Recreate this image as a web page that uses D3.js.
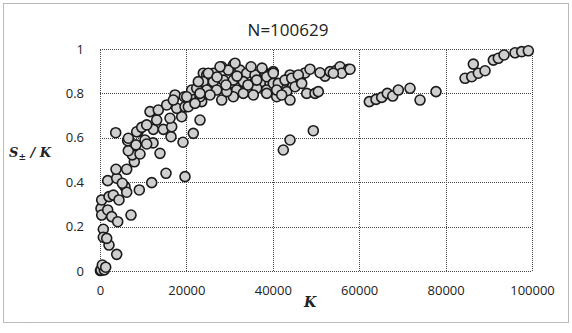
<!DOCTYPE html>
<html>
<head>
<meta charset="utf-8">
<script src="https://cdn.jsdelivr.net/npm/d3@7"></script>
<style>
  html, body { margin: 0; padding: 0; background: #fff; }
  svg { display: block; }
</style>
</head>
<body>
<div id="chart"></div>
<script>
// chart text
const chartTitle = "N=100629";
const xTicks = [0, 20000, 40000, 60000, 80000, 100000];
const yTicks = [0, 0.2, 0.4, 0.6, 0.8, 1];

// K values (x) and S/K values (y)
const kValues = [
  100, 232, 995, 532, 1320, 2084, 3866, 764, 764, 1551, 232, 394, 1783, 2709, 4098, 7177,
  394, 2084, 3079, 4399, 5788, 6181, 9098, 1783, 3866, 5162, 11969, 3704, 6181, 15279, 19678,
  7940, 7477, 9260, 13890, 6551, 6413, 8334, 10418, 12270, 10811, 3635, 8797, 16437, 19215, 6551,
  8496, 9654, 12339, 14654, 16599, 10811, 13126, 16205, 18914, 23150, 21599, 11575, 13496,
  15441, 17756, 19678, 20441, 17363, 19515, 21993, 23543, 21229, 23150, 23914, 20071, 16969,
  30859, 28173, 29701, 26229, 24700, 32410, 33961, 35883, 38198, 39749,
  23914, 26229, 28544, 30859, 33174, 35489, 37434, 39355,
  22386, 24700, 27016, 29331, 31646, 33961, 36276, 38591,
  23150, 25465, 28173, 30859, 33174, 21993,
  22756, 25071, 27780, 31253, 36276, 38591, 40119, 42433, 23150, 29331, 35489, 38591, 40906,
  27085, 31715, 34957, 37503, 29169, 34262, 43985, 46300, 47457, 52087,
  40119, 40119, 41276, 42828, 44379, 45906, 48615, 50930, 53245, 54796, 55560, 57481, 55953, 54009,
  40906, 43221, 45143, 46694, 47851, 49773, 50536, 43985, 42064, 49379, 43985, 42433, 57875,
  62343, 63894, 65214, 66510, 67760, 69056, 71765, 74080, 77784,
  84498, 86049, 87576, 89128, 86419, 91049, 92207, 93526, 96073, 97624, 99151
];
const sRatio = [
  0.002, 0.004, 0.005, 0.027, 0.017, 0.117, 0.075, 0.188, 0.152, 0.147, 0.282, 0.252, 0.275, 0.245, 0.222, 0.252,
  0.320, 0.335, 0.342, 0.320, 0.380, 0.355, 0.365, 0.407, 0.418, 0.395, 0.398, 0.458, 0.458, 0.440, 0.425,
  0.492, 0.523, 0.527, 0.530, 0.542, 0.587, 0.568, 0.590, 0.577, 0.572, 0.623, 0.627, 0.605, 0.580, 0.598,
  0.627, 0.647, 0.638, 0.638, 0.650, 0.658, 0.680, 0.688, 0.695, 0.680, 0.620, 0.718, 0.725,
  0.748, 0.733, 0.740, 0.740, 0.793, 0.785, 0.778, 0.763, 0.815, 0.853, 0.891, 0.785, 0.770,
  0.928, 0.920, 0.905, 0.891, 0.883, 0.905, 0.891, 0.883, 0.891, 0.891,
  0.853, 0.853, 0.860, 0.860, 0.853, 0.845, 0.853, 0.845,
  0.823, 0.815, 0.815, 0.815, 0.815, 0.815, 0.823, 0.815,
  0.785, 0.793, 0.770, 0.785, 0.800, 0.755,
  0.853, 0.891, 0.920, 0.936, 0.860, 0.875, 0.898, 0.845, 0.800, 0.808, 0.793, 0.800, 0.785,
  0.874, 0.878, 0.920, 0.914, 0.838, 0.838, 0.883, 0.869, 0.892, 0.878,
  0.891, 0.845, 0.845, 0.860, 0.868, 0.883, 0.909, 0.893, 0.898, 0.905, 0.920, 0.909, 0.891, 0.891,
  0.815, 0.808, 0.830, 0.845, 0.800, 0.800, 0.808, 0.770, 0.793, 0.632, 0.590, 0.545, 0.909,
  0.763, 0.773, 0.782, 0.800, 0.788, 0.815, 0.823, 0.770, 0.808,
  0.868, 0.875, 0.891, 0.902, 0.932, 0.950, 0.958, 0.973, 0.983, 0.988, 0.992
];

const points = kValues.map((k, i) => ({ k, s: sRatio[i] }));

const width = 572, height = 333;
const margin = { left: 100, right: 40, top: 49, bottom: 62 };

const svg = d3.select("#chart").append("svg")
  .attr("width", width)
  .attr("height", height);

// outer chart border
svg.append("rect")
  .attr("x", 3.5).attr("y", 3.5)
  .attr("width", 565).attr("height", 319)
  .attr("fill", "none")
  .attr("stroke", "#777")
  .attr("stroke-dasharray", "1,1");

const x = d3.scaleLinear().domain([0, 100000]).range([margin.left, width - margin.right]);
const y = d3.scaleLinear().domain([0, 1]).range([height - margin.bottom, margin.top]);

// grid lines
const grid = svg.append("g")
  .attr("stroke", "#444")
  .attr("stroke-dasharray", "1,1")
  .attr("shape-rendering", "crispEdges");

grid.selectAll("line.h").data(yTicks).enter().append("line")
  .attr("x1", x(0)).attr("x2", x(100000))
  .attr("y1", d => Math.round(y(d)) + 0.5).attr("y2", d => Math.round(y(d)) + 0.5);

grid.selectAll("line.v").data(xTicks).enter().append("line")
  .attr("y1", y(0)).attr("y2", y(1))
  .attr("x1", d => Math.round(x(d)) + 0.5).attr("x2", d => Math.round(x(d)) + 0.5);

// axes (labels only, Excel style)
const yAxis = svg.append("g")
  .attr("transform", `translate(${x(0) - 13},0)`)
  .call(d3.axisLeft(y).tickValues(yTicks).tickSize(0).tickFormat(d3.format("")));
yAxis.select(".domain").remove();
yAxis.selectAll("text")
  .attr("font-family", "'Open Sans', sans-serif")
  .attr("font-size", 13)
  .attr("fill", "#222");

const xAxis = svg.append("g")
  .attr("transform", `translate(0,${y(0) + 12})`)
  .call(d3.axisBottom(x).tickValues(xTicks).tickSize(0).tickFormat(d3.format("d")));
xAxis.select(".domain").remove();
xAxis.selectAll("text")
  .attr("font-family", "'Open Sans', sans-serif")
  .attr("font-size", 13)
  .attr("fill", "#222");

// title
svg.append("text")
  .attr("x", 288).attr("y", 36)
  .attr("text-anchor", "middle")
  .attr("font-family", "'Open Sans', sans-serif")
  .attr("font-size", 17)
  .attr("fill", "#222")
  .text(chartTitle);

// axis titles
const xTitle = svg.append("text")
  .attr("x", 310).attr("y", 307)
  .attr("text-anchor", "middle")
  .attr("font-family", "'DejaVu Serif', serif")
  .attr("font-style", "italic")
  .attr("font-weight", "bold")
  .attr("font-size", 14)
  .attr("fill", "#222")
  .text("K");

const yTitle = svg.append("text")
  .attr("x", 9).attr("y", 157)
  .attr("font-family", "'DejaVu Serif', serif")
  .attr("font-style", "italic")
  .attr("font-weight", "bold")
  .attr("font-size", 13)
  .attr("fill", "#222");
yTitle.append("tspan").text("S");
yTitle.append("tspan").attr("font-size", 9).attr("dy", 3).text("\u00b1");
yTitle.append("tspan").attr("dy", -3).text(" / K");

// points
svg.append("g")
  .selectAll("circle")
  .data(points)
  .enter().append("circle")
  .attr("cx", d => x(d.k))
  .attr("cy", d => y(d.s))
  .attr("r", 5)
  .attr("fill", "#cfcfcf")
  .attr("stroke", "#1a1a1a")
  .attr("stroke-width", 1.6);
</script>
</body>
</html>
